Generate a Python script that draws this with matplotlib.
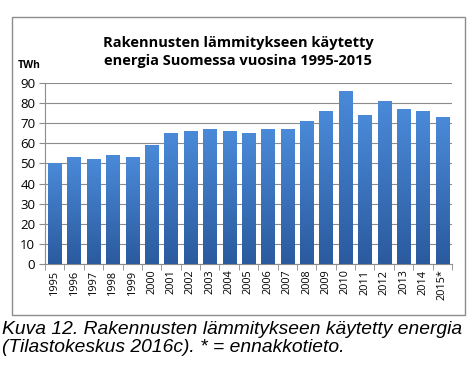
import matplotlib.pyplot as plt
import numpy as np
from matplotlib.patches import Rectangle
from matplotlib.colors import LinearSegmentedColormap

years = ["1995", "1996", "1997", "1998", "1999", "2000", "2001", "2002", "2003", "2004",
         "2005", "2006", "2007", "2008", "2009", "2010", "2011", "2012", "2013", "2014", "2015*"]
twh = [50, 53, 52, 54, 53, 59, 65, 66, 67, 66, 65, 67, 67, 71, 76, 86, 74, 81, 77, 76, 73]
yticks = [0, 10, 20, 30, 40, 50, 60, 70, 80, 90]

fig = plt.figure(figsize=(4.74, 3.76), dpi=100)

# chart frame
fig.patches.append(Rectangle((12/474, 1-315/376), 453/474, 298/376, transform=fig.transFigure,
                             fill=False, edgecolor='#8c8c8c', linewidth=1.0))

ax = fig.add_axes([45/474, 1-264/376, 407/474, 181/376])
x = np.arange(len(years))
bars = ax.bar(x, twh, width=0.68, color='#3a72c4', zorder=2)

# vertical gradient inside each bar
grad = np.linspace(0, 1, 256).reshape(-1, 1)
cmap = LinearSegmentedColormap.from_list('b', ['#2b5a9e', '#4a8ad8'])
for b in bars:
    im = ax.imshow(grad, extent=[b.get_x(), b.get_x()+b.get_width(), 0, b.get_height()],
                   origin='lower', aspect='auto', cmap=cmap, zorder=3)
    im.set_clip_path(b)

ax.set_xlim(-0.5, len(years)-0.5)
ax.set_ylim(0, 90)
ax.set_yticks(yticks)
ax.set_yticklabels([str(v) for v in yticks], fontsize=9.5, family='Open Sans')
ax.set_xticks(x)
ax.set_xticklabels(years, rotation=90, fontsize=7.8, family='Open Sans')
ax.set_xticks(np.arange(-0.5, len(years)), minor=True)
ax.tick_params(axis='x', which='major', length=0, pad=4)
ax.tick_params(axis='x', which='minor', length=4, color='#8c8c8c')
ax.tick_params(axis='y', length=4, color='#8c8c8c', pad=3)
ax.grid(axis='y', color='#8c8c8c', linewidth=0.8, zorder=0)
ax.set_axisbelow(True)
for s in ['top', 'right']:
    ax.spines[s].set_visible(False)
ax.spines['left'].set_color('#8c8c8c')
ax.spines['bottom'].set_color('#8c8c8c')

fig.text(238/474, 1-52/376, "Rakennusten lämmitykseen käytetty\nenergia Suomessa vuosina 1995-2015",
         ha='center', va='center', fontsize=10.5, fontweight='bold', family='Open Sans',
         linespacing=1.45)
fig.text(18/474, 1-66/376, "TWh", ha='left', va='center', fontsize=7.5, fontweight='bold',
         family='Open Sans')

fig.text(2/474, 1-330/376, "Kuva 12. Rakennusten lämmitykseen käytetty energia", ha='left', va='center',
         fontsize=13.9, style='italic', family='Liberation Sans')
fig.text(2/474, 1-348/376, "(Tilastokeskus 2016c). * = ennakkotieto.", ha='left', va='center',
         fontsize=13.9, style='italic', family='Liberation Sans')

fig.savefig('out.png', dpi=100)
